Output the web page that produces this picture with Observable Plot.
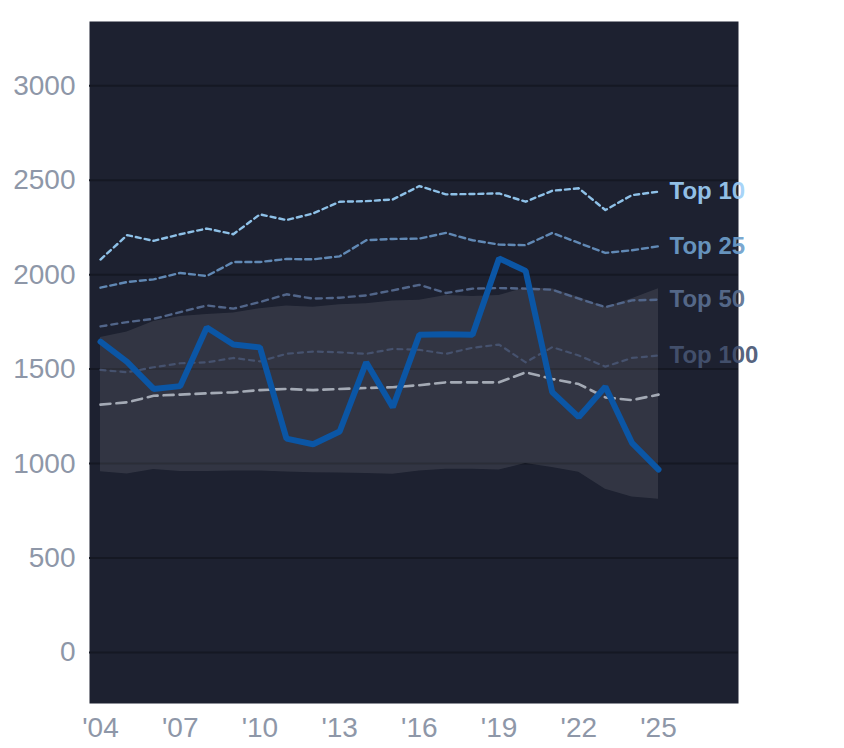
<!DOCTYPE html>
<html>
<head>
<meta charset="utf-8">
<script src="https://cdn.jsdelivr.net/npm/d3@7"></script>
<script src="https://cdn.jsdelivr.net/npm/@observablehq/plot@0.6"></script>
<style>
  html, body { margin: 0; padding: 0; background: #ffffff; }
  #chart svg { display: block; }
</style>
</head>
<body>
<div id="chart"></div>
<script>
const years = d3.range(2004, 2026);
const mainValues = [1645, 1538, 1395, 1410, 1720, 1630, 1615, 1132, 1102, 1170, 1536, 1298, 1682, 1685, 1682, 2086, 2020, 1378, 1246, 1407, 1110, 968];
const bandLow  = [957, 945, 968, 958, 958, 961, 961, 956, 952, 950, 947, 944, 961, 970, 970, 966, 1000, 979, 954, 864, 823, 811];
const bandHigh = [1667, 1696, 1752, 1779, 1789, 1797, 1820, 1834, 1828, 1841, 1846, 1860, 1864, 1890, 1885, 1890, 1929, 1926, 1881, 1828, 1873, 1926];
const top10  = [2080, 2209, 2179, 2214, 2244, 2214, 2319, 2289, 2324, 2386, 2389, 2398, 2469, 2425, 2427, 2430, 2386, 2444, 2457, 2342, 2421, 2439];
const top25  = [1931, 1961, 1975, 2009, 1993, 2067, 2067, 2083, 2081, 2097, 2182, 2189, 2191, 2221, 2182, 2159, 2156, 2221, 2168, 2115, 2129, 2150];
const top50  = [1726, 1749, 1766, 1802, 1837, 1820, 1855, 1896, 1873, 1878, 1890, 1917, 1946, 1903, 1926, 1929, 1926, 1920, 1873, 1828, 1864, 1867];
const top100 = [1496, 1483, 1510, 1531, 1536, 1559, 1541, 1581, 1593, 1589, 1581, 1607, 1602, 1581, 1613, 1630, 1536, 1616, 1572, 1513, 1559, 1572];
const median = [1312, 1324, 1359, 1365, 1372, 1377, 1389, 1395, 1389, 1395, 1400, 1404, 1415, 1430, 1430, 1430, 1483, 1448, 1421, 1350, 1336, 1365];
const yTicks = [0, 500, 1000, 1500, 2000, 2500, 3000];
const xTicks = [2004, 2007, 2010, 2013, 2016, 2019, 2022, 2025];
const seriesLabels = ["Top 10", "Top 25", "Top 50", "Top 100"];

const rows = years.map((year, i) => ({
  year, main: mainValues[i], low: bandLow[i], high: bandHigh[i],
  t10: top10[i], t25: top25[i], t50: top50[i], t100: top100[i], med: median[i]
}));
const last = rows[rows.length - 1];
const labelRows = [
  {name: seriesLabels[0], year: last.year, value: last.t10, color: "#9fd0f8"},
  {name: seriesLabels[1], year: last.year, value: last.t25, color: "#6e9fcc"},
  {name: seriesLabels[2], year: last.year, value: last.t50, color: "#5a6f90"},
  {name: seriesLabels[3], year: last.year, value: last.t100, color: "#465472"}
];

const chart = Plot.plot({
  width: 844,
  height: 748,
  marginLeft: 89,
  marginRight: 106,
  marginTop: 21,
  marginBottom: 45,
  style: {fontFamily: "Arial, 'Liberation Sans', sans-serif", background: "#ffffff", overflow: "visible"},
  x: {domain: [2003.586, 2028.01], ticks: xTicks, tickFormat: d => "'" + String(d).slice(2), tickSize: 0, tickPadding: 14, label: null},
  y: {domain: [-270, 3340], ticks: yTicks, tickFormat: d => String(d), tickSize: 0, tickPadding: 14, label: null},
  marks: [
    Plot.frame({fill: "#1d2130", stroke: null}),
    Plot.ruleY(yTicks, {stroke: "#151823", strokeWidth: 2}),
    Plot.areaY(rows, {x: "year", y1: "low", y2: "high", fill: "#ffffff", fillOpacity: 0.093}),
    Plot.line(rows, {x: "year", y: "t100", stroke: "#46526e", strokeWidth: 2.2, strokeDasharray: "5,5"}),
    Plot.line(rows, {x: "year", y: "t50", stroke: "#52668a", strokeWidth: 2.4, strokeDasharray: "6,5"}),
    Plot.line(rows, {x: "year", y: "t25", stroke: "#6189b5", strokeWidth: 2.4, strokeDasharray: "6,4"}),
    Plot.line(rows, {x: "year", y: "t10", stroke: "#8ec1e8", strokeWidth: 2.4, strokeDasharray: "5,4"}),
    Plot.line(rows, {x: "year", y: "med", stroke: "#a4aab5", strokeWidth: 2.6, strokeDasharray: "10,6"}),
    Plot.line(rows, {x: "year", y: "main", stroke: "#0b56a5", strokeWidth: 6, strokeLinejoin: "miter"}),
    Plot.text(labelRows, {x: "year", y: "value", text: "name", fill: "color", dx: 11, textAnchor: "start", fontSize: 24, fontWeight: "bold", fillOpacity: 0.92})
  ]
});
chart.querySelectorAll("[aria-label='x-axis tick label'], [aria-label='y-axis tick label']").forEach(g => {
  g.setAttribute("font-size", "28");
  g.setAttribute("fill", "#8e97a8");
});
document.getElementById("chart").appendChild(chart);
</script>
</body>
</html>
